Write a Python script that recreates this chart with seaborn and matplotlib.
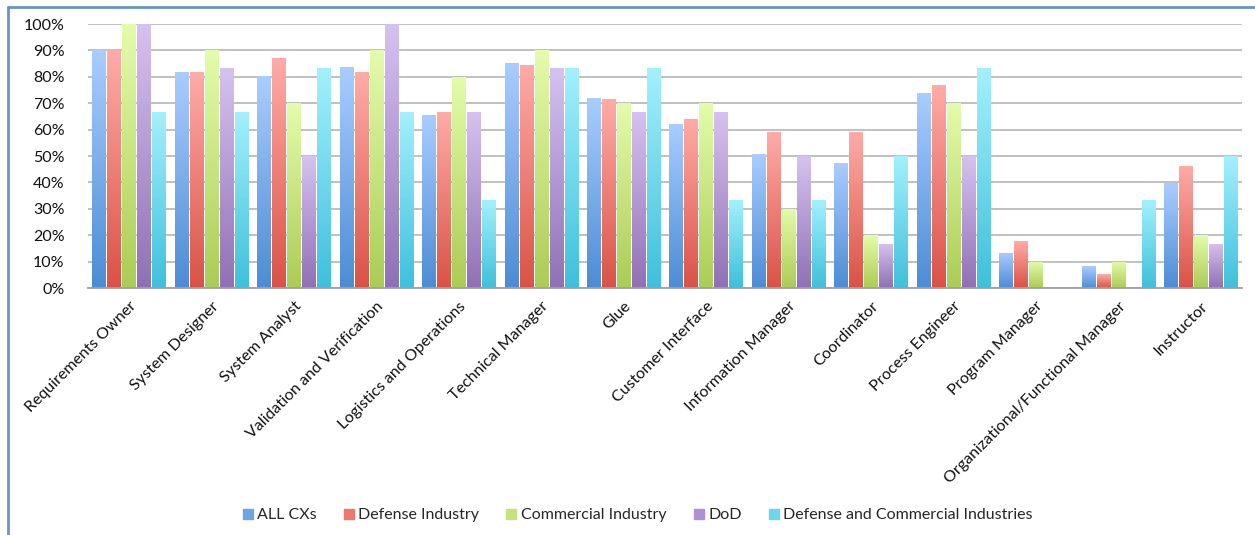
import numpy as np
import pandas as pd
import matplotlib
matplotlib.use("Agg")
import matplotlib.pyplot as plt
import seaborn as sns
from matplotlib.colors import LinearSegmentedColormap
from matplotlib.lines import Line2D

categories = ["Requirements Owner", "System Designer", "System Analyst",
              "Validation and Verification", "Logistics and Operations",
              "Technical Manager", "Glue", "Customer Interface",
              "Information Manager", "Coordinator", "Process Engineer",
              "Program Manager", "Organizational/Functional Manager", "Instructor"]
series = ["ALL CXs", "Defense Industry", "Commercial Industry", "DoD",
          "Defense and Commercial Industries"]
all_cxs = [90.3, 82.0, 80.4, 83.8, 65.6, 85.3, 72.0, 62.2, 50.8, 47.4, 74.0, 13.3, 8.3, 39.6]
defense = [90.0, 82.0, 87.2, 82.0, 66.7, 84.6, 71.7, 64.1, 59.2, 59.2, 77.0, 17.8, 5.3, 46.3]
commercial = [100.0, 90.0, 70.0, 90.0, 80.0, 90.0, 70.0, 70.0, 30.0, 20.0, 70.0, 10.0, 10.0, 20.0]
dod = [100.0, 83.3, 50.0, 100.0, 66.7, 83.3, 66.7, 66.7, 50.0, 16.7, 50.0, 0.0, 0.0, 16.7]
def_comm = [66.7, 66.7, 83.3, 66.7, 33.3, 83.3, 83.3, 33.3, 33.3, 50.0, 83.3, 0.0, 33.3, 50.0]
yticks = [0, 10, 20, 30, 40, 50, 60, 70, 80, 90, 100]

values = [all_cxs, defense, commercial, dod, def_comm]
df = pd.DataFrame({
    "role": np.repeat([categories], len(series), axis=0).ravel(),
    "group": np.repeat(series, len(categories)),
    "value": np.concatenate(values) / 100.0,
})

tops = ["#AACDFF", "#FFACA8", "#E4FCAC", "#D6C2F0", "#A4F0FC"]
bots = ["#4C8CD5", "#DA5246", "#ABCC55", "#9070B5", "#3EC0DC"]
mids = ["#6FA2E6", "#EC7A70", "#C6E27E", "#AD91D2", "#6ED6EC"]

sns.set_theme(style="white")
plt.rcParams["font.family"] = ["Lato", "DejaVu Sans"]

fig = plt.figure(figsize=(12.55, 5.35), dpi=100)
ax = fig.add_axes([88/1255, 1-288/535, (1242-88)/1255, (288-24)/535])

sns.barplot(data=df, x="role", y="value", hue="group", hue_order=series,
            palette=mids, width=0.91, gap=0.1, ax=ax, legend=False,
            linewidth=0, saturation=1)

# gradient fills
grad = np.linspace(1, 0, 256).reshape(-1, 1)
for i, patch in enumerate(ax.patches):
    h = patch.get_height()
    if h <= 0:
        continue
    s = i // len(categories)
    cmap = LinearSegmentedColormap.from_list("g", [bots[s], tops[s]])
    x0 = patch.get_x(); w = patch.get_width()
    im = ax.imshow(grad, cmap=cmap, aspect="auto", extent=(x0, x0 + w, 0, h),
                   origin="upper", zorder=patch.get_zorder() + 0.1)
    im.set_clip_path(patch)

ax.set_xlim(-0.5, len(categories) - 0.5)
ax.set_ylim(0, 1.0)
ax.set_yticks([t / 100 for t in yticks])
ax.set_yticklabels([f"{t}%" for t in yticks], fontsize=11.5, color="#111111")
ax.yaxis.grid(True, color="#BBBBBB", linewidth=1.3)
ax.set_axisbelow(True)
for sp in ["top", "right", "left"]:
    ax.spines[sp].set_visible(False)
ax.spines["bottom"].set_color("#A0A0A0")
ax.spines["bottom"].set_linewidth(1.3)
ax.tick_params(axis="y", length=0, pad=17)
ax.tick_params(axis="x", length=0, pad=8)
ax.set_xlabel("")
ax.set_ylabel("")
ax.set_xticks(range(len(categories)))
ax.set_xticklabels(categories, rotation=45, ha="right", va="top",
                   rotation_mode="anchor", fontsize=11.5, color="#111111")

handles = [Line2D([], [], marker="s", linestyle="", markersize=6.5,
                  markerfacecolor=mids[i], markeredgecolor=mids[i]) for i in range(5)]
fig.legend(handles, series, loc="center", bbox_to_anchor=(637/1255, 1-515/535),
           ncol=5, frameon=False, fontsize=11.5, handletextpad=0.2,
           columnspacing=1.6, handlelength=0.8)

# outer frame
fig.add_artist(Line2D([8/1255, 1], [1-7/535, 1-7/535], transform=fig.transFigure,
                      color="#6A93C8", linewidth=2))
fig.add_artist(Line2D([8/1255, 8/1255], [0, 1-7/535], transform=fig.transFigure,
                      color="#6A93C8", linewidth=2))

fig.savefig("out.png", dpi=100)
